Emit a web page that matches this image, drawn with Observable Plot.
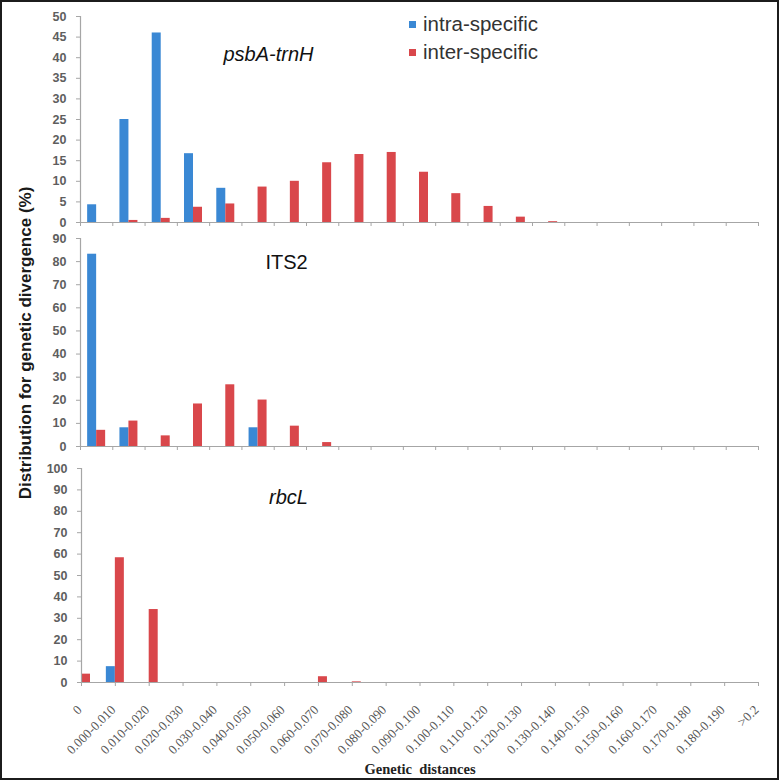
<!DOCTYPE html>
<html>
<head>
<meta charset="utf-8">
<script src="https://cdn.jsdelivr.net/npm/d3@7"></script>
<script src="https://cdn.jsdelivr.net/npm/@observablehq/plot@0.6"></script>
<style>
  html, body { margin: 0; padding: 0; background: #fff; }
  #wrap { position: relative; width: 779px; height: 780px; overflow: hidden; background: #fff; }
  #frame { position: absolute; left: 0; top: 0; width: 779px; height: 780px; box-sizing: border-box; border: 2px solid #1c1c1c; pointer-events: none; }
  .panel { position: absolute; left: 0; }
  #ytitle { position: absolute; left: 26px; top: 343px; transform: translate(-50%, -50%) rotate(-90deg);
            white-space: nowrap; font: bold 17px "Liberation Sans", Arial, sans-serif; color: #1a1a1a; }
  #legend { position: absolute; left: 409px; top: 10px; font: 20.5px "Liberation Sans", Arial, sans-serif; color: #333; }
  #legend .row { height: 28px; line-height: 28px; white-space: nowrap; }
  #legend .sw { display: inline-block; width: 7px; height: 7px; margin-right: 7px; vertical-align: 3px; }
</style>
</head>
<body>
<div id="wrap">
  <div id="p1" class="panel" style="top:0px"></div>
  <div id="p2" class="panel" style="top:232px"></div>
  <div id="p3" class="panel" style="top:454px"></div>
  <div id="ytitle">Distribution for genetic divergence (%)</div>
  <div id="legend"></div>
  <div id="frame"></div>
</div>
<script>
// ---- data ----
const categories = ["0","0.000-0.010","0.010-0.020","0.020-0.030","0.030-0.040","0.040-0.050",
  "0.050-0.060","0.060-0.070","0.070-0.080","0.080-0.090","0.090-0.100","0.100-0.110",
  "0.110-0.120","0.120-0.130","0.130-0.140","0.140-0.150","0.150-0.160","0.160-0.170",
  "0.170-0.180","0.180-0.190",">0.2"];
const seriesNames = ["intra-specific", "inter-specific"];
const seriesColors = ["#3a88d4", "#d9474b"];

const psbaIntra = [4.3, 25.0, 46.0, 16.7, 8.3, 0, 0, 0, 0, 0, 0, 0, 0, 0, 0, 0, 0, 0, 0, 0, 0];
const psbaInter = [0, 0.5, 1.0, 3.7, 4.5, 8.6, 10.0, 14.5, 16.5, 17.0, 12.2, 7.0, 3.9, 1.3, 0.2, 0, 0, 0, 0, 0, 0];
const its2Intra = [83.2, 8.1, 0, 0, 0, 8.1, 0, 0, 0, 0, 0, 0, 0, 0, 0, 0, 0, 0, 0, 0, 0];
const its2Inter = [7.0, 11.0, 4.6, 18.4, 26.7, 20.1, 8.8, 1.7, 0, 0, 0, 0, 0, 0, 0, 0, 0, 0, 0, 0, 0];
const rbclIntra = [0, 7.4, 0, 0, 0, 0, 0, 0, 0, 0, 0, 0, 0, 0, 0, 0, 0, 0, 0, 0, 0];
const rbclInter = [3.9, 58.3, 34.1, 0, 0, 0, 0, 2.7, 0.3, 0, 0, 0, 0, 0, 0, 0, 0, 0, 0, 0, 0];

// "between": categories sit between tick marks; "on": categories sit on tick marks
const panels = [
  {id: "p1", title: "psbA-trnH", italic: true, intra: psbaIntra, inter: psbaInter, yMax: 50, yStep: 5,
   height: 232, marginTop: 16, marginBottom: 10, marginLeft: 80, tdx: 188, tdy: 44, mode: "between", labels: false},
  {id: "p2", title: "ITS2", italic: false, intra: its2Intra, inter: its2Inter, yMax: 90, yStep: 10,
   height: 222, marginTop: 6, marginBottom: 8, marginLeft: 80, tdx: 206, tdy: 30, mode: "between", labels: false},
  {id: "p3", title: "rbcL", italic: true, intra: rbclIntra, inter: rbclInter, yMax: 100, yStep: 10,
   height: 324, marginTop: 14, marginBottom: 96, marginLeft: 81, tdx: 207, tdy: 35, mode: "on", labels: true}
];

const axisGray = "#a6a6a6";
const n = categories.length;

for (const p of panels) {
  const on = p.mode === "on";
  const plotW = 779 - p.marginLeft - 21;
  const step = on ? plotW / (n - 1) : plotW / n;
  const barW = 9;
  const outer = on ? step / 2 - barW : (step - 2 * barW) / 2;
  const lo = d => on ? d.i - 0.5 : d.i;
  const hi = d => on ? d.i + 0.5 : d.i + 1;
  const rows = [];
  categories.forEach((c, i) => {
    rows.push({i, cat: c, series: seriesNames[0], value: p.intra[i]});
    rows.push({i, cat: c, series: seriesNames[1], value: p.inter[i]});
  });
  const marks = [
    Plot.rectY(rows.filter(d => d.series === seriesNames[0]), {
      x1: lo, x2: hi, y: "value", fill: seriesColors[0], insetLeft: outer, insetRight: step - outer - barW
    }),
    Plot.rectY(rows.filter(d => d.series === seriesNames[1]), {
      x1: lo, x2: hi, y: "value", fill: seriesColors[1], insetLeft: step - outer - barW, insetRight: outer
    }),
    Plot.ruleY([0], {stroke: axisGray, strokeWidth: 1.2}),
    Plot.ruleX([0], {stroke: axisGray, strokeWidth: 1.2}),
    Plot.axisY({ticks: d3.range(0, p.yMax + 1, p.yStep), tickSize: 4, tickPadding: 10, stroke: axisGray,
      fill: "#5e5e5e", fontSize: 12.5, fontWeight: "bold", label: null}),
    Plot.axisX({ticks: d3.range(0, on ? n : n + 1), tickSize: 4, text: null, stroke: axisGray, label: null}),
    Plot.text([p.title], {frameAnchor: "top-left", dx: p.tdx, dy: p.tdy, lineAnchor: "bottom",
      textAnchor: "middle", fontSize: 20, fontStyle: p.italic ? "italic" : "normal", fill: "#111"})
  ];
  if (p.labels) {
    marks.push(Plot.text(categories, {x: (d, i) => i, frameAnchor: "bottom", rotate: -45,
      textAnchor: "end", lineAnchor: "top", dx: -5.5, dy: 21.5, fontSize: 13, fill: "#555",
      fontFamily: "Liberation Serif, Times New Roman, serif"}));
    marks.push(Plot.text(["Genetic  distances"], {frameAnchor: "bottom", dy: 91, lineAnchor: "bottom",
      fontFamily: "Liberation Serif, Times New Roman, serif", fontWeight: "bold", fontSize: 14.5, fill: "#222"}));
  }
  const chart = Plot.plot({
    width: 779, height: p.height,
    marginLeft: p.marginLeft, marginRight: 21, marginTop: p.marginTop, marginBottom: p.marginBottom,
    x: {type: "linear", domain: on ? [0, n - 1] : [0, n], label: null},
    y: {domain: [0, p.yMax], label: null},
    style: {fontFamily: "Liberation Sans, Arial, sans-serif", background: "transparent", overflow: "visible"},
    marks
  });
  document.getElementById(p.id).appendChild(chart);
}

// legend
const legend = document.getElementById("legend");
seriesNames.forEach((s, k) => {
  const row = document.createElement("div");
  row.className = "row";
  const sw = document.createElement("span");
  sw.className = "sw";
  sw.style.background = seriesColors[k];
  row.appendChild(sw);
  const t = document.createElement("span");
  t.textContent = s;
  row.appendChild(t);
  legend.appendChild(row);
});
</script>
</body>
</html>
